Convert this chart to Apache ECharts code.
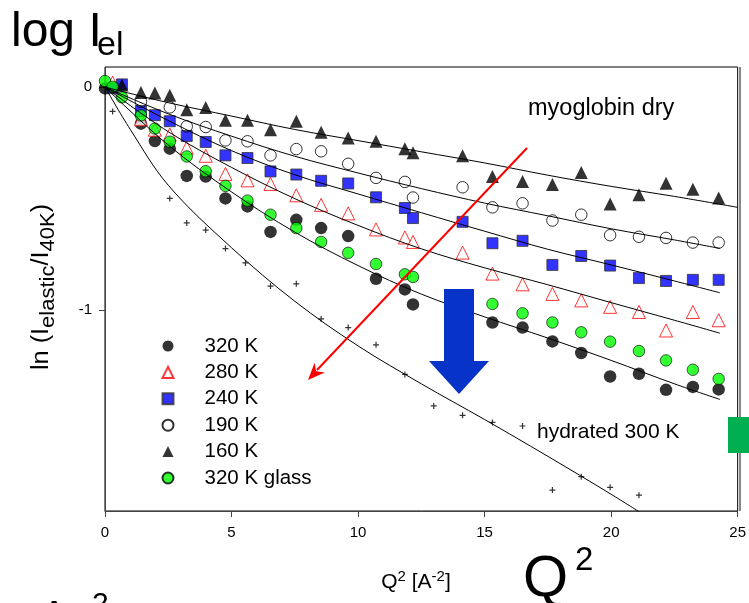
<!DOCTYPE html>
<html>
<head>
<meta charset="utf-8">
<script src="https://cdn.jsdelivr.net/npm/echarts@6/dist/echarts.min.js"></script>
<style>
html, body { margin: 0; padding: 0; background: #fff; }
#chart { width: 749px; height: 603px; }
</style>
</head>
<body>
<div id="chart"></div>
<script>
// Q^2 grid (A^-2) shared by the myoglobin runs
const q2 = [0, 0.30, 0.67, 1.42, 1.97, 2.56, 3.23, 3.98, 4.76, 5.63, 6.54, 7.56, 8.54, 9.61,
  10.71, 11.85, 12.17, 14.13, 15.31, 16.50, 17.68, 18.82, 19.96, 21.10, 22.17, 23.23, 24.25];

// ln(I_elastic / I_40K) per temperature (null = no point at that Q^2)
const k320 = [-0.006, null, null, -0.164, -0.242, -0.276, -0.398, -0.401, -0.499, -0.535, -0.649, -0.595, -0.632, -0.668,
  -0.859, -0.907, -0.974, null, -1.055, -1.078, -1.140, -1.192, -1.297, -1.285, -1.357, -1.344, -1.355];
const k280 = [null, 0.02, null, -0.144, -0.191, -0.213, -0.272, -0.308, -0.389, -0.418, -0.434, -0.485, -0.528, -0.566,
  -0.638, -0.674, -0.694, -0.742, -0.836, -0.884, -0.927, -0.956, -0.985, -1.008, -1.091, -1.008, -1.045];
const k240 = [null, -0.005, 0.012, -0.107, -0.126, -0.153, -0.219, -0.246, -0.306, -0.318, -0.378, -0.392, -0.420, -0.432,
  -0.494, -0.542, -0.587, -0.604, -0.700, -0.689, -0.797, -0.757, -0.800, -0.856, -0.869, -0.864, -0.864];
const k190 = [null, null, null, -0.066, null, -0.091, -0.176, -0.179, -0.239, -0.243, -0.306, -0.278, -0.288, -0.344,
  -0.407, -0.425, -0.495, -0.449, -0.539, -0.521, -0.598, -0.572, -0.664, -0.671, -0.676, -0.697, -0.697];
const k160 = [null, null, 0.009, -0.024, -0.026, -0.037, -0.102, -0.091, -0.149, -0.149, -0.191, -0.153, -0.203, -0.228,
  -0.243, -0.276, -0.294, -0.308, -0.401, -0.423, -0.437, -0.383, -0.524, -0.483, -0.431, -0.458, -0.497];
const glass320 = [0.027, 0.001, -0.046, -0.127, -0.186, -0.245, -0.311, -0.377, -0.443, -0.509, -0.572, -0.632, -0.694, -0.743,
  -0.793, -0.839, -0.851, null, -0.972, -1.014, -1.055, -1.099, -1.141, -1.183, -1.225, -1.267, -1.308];

// hydrated myoglobin, 300 K
const q2Hyd = [0.30, 2.56, 3.23, 3.98, 4.76, 5.55, 6.54, 7.56, 8.54, 9.61, 10.71, 11.85, 12.99, 14.13, 15.31, 16.50, 17.68, 18.82, 19.96, 21.10];
const hyd300 = [-0.109, -0.499, -0.609, -0.641, -0.724, -0.788, -0.892, -0.882, -1.039, -1.078, -1.155, -1.288, -1.429, -1.471,
  -1.503, -1.519, -1.806, -1.746, -1.794, -1.829];

// fitted curves, sampled along Q^2
const fitQ2 = [0, 2.5, 5, 7.5, 10, 12.5, 15, 17.5, 20, 22.5, 24.3];
const fitQ2Full = [0, 2.5, 5, 7.5, 10, 12.5, 15, 17.5, 20, 22.5, 25];
const fit160 = [0, -0.07, -0.13, -0.19, -0.24, -0.29, -0.34, -0.395, -0.445, -0.49, -0.539];
const fit190 = [0, -0.12, -0.22, -0.31, -0.385, -0.455, -0.52, -0.577, -0.635, -0.685, -0.723];
const fit240 = [0, -0.15, -0.285, -0.393, -0.479, -0.563, -0.646, -0.727, -0.797, -0.869, -0.922];
const fit280 = [0, -0.2, -0.36, -0.5, -0.62, -0.725, -0.81, -0.886, -0.966, -1.045, -1.103];
const fit320 = [0, -0.26, -0.47, -0.65, -0.80, -0.928, -1.03, -1.125, -1.225, -1.33, -1.40];
const fitHydQ2 = [0, 1, 2.5, 5, 7.5, 10, 12.5, 15, 17.5, 20, 21.2];
const fitHyd = [0, -0.19, -0.44, -0.72, -0.96, -1.16, -1.33, -1.49, -1.655, -1.825, -1.91];

// axis ticks
const xTicks = [0, 5, 10, 15, 20, 25];
const yTicks = [0, -1];

const FONT = '"Liberation Sans", Arial, sans-serif';

function pairs(xs, ys) {
  const out = [];
  xs.forEach((x, i) => { if (ys[i] !== null) out.push([x, ys[i]]); });
  return out;
}

function scatter(name, ys, symbol, size, itemStyle, xs) {
  return {
    name, type: 'scatter', z: 2,
    symbol, symbolSize: size,
    itemStyle,
    data: pairs(xs || q2, ys)
  };
}

function fit(xs, ys) {
  return {
    type: 'line', z: 3, smooth: 0.35, showSymbol: false, silent: true,
    lineStyle: { color: '#000', width: 1 },
    data: pairs(xs, ys)
  };
}

const plusPath = 'path://M4,0h2v4h4v2h-4v4h-2v-4h-4v-2h4z';

const option = {
  animation: false,
  backgroundColor: '#fff',
  textStyle: { fontFamily: FONT },
  grid: {
    left: 105, top: 67, width: 635, height: 444,
    show: true, borderColor: '#000', borderWidth: 1
  },
  xAxis: {
    type: 'value', min: 0, max: 25, interval: 5,
    axisLine: { show: true, onZero: false, lineStyle: { color: '#444', width: 1 } },
    axisTick: { show: true, length: 6, customValues: xTicks, lineStyle: { color: '#444' } },
    axisLabel: { customValues: xTicks, fontSize: 15, color: '#000', margin: 14, fontFamily: FONT },
    splitLine: { show: false }
  },
  yAxis: {
    type: 'value', min: -1.9, max: 0.09,
    axisLine: { show: true, onZero: false, lineStyle: { color: '#444', width: 1 } },
    axisTick: { show: true, length: 6, customValues: yTicks, lineStyle: { color: '#444' } },
    axisLabel: { customValues: yTicks, fontSize: 15, color: '#000', margin: 13, fontFamily: FONT },
    splitLine: { show: false }
  },
  legend: {
    orient: 'vertical', left: 161.5, top: 335, padding: 0,
    itemWidth: 11, itemHeight: 11, itemGap: 4.4,
    data: ['320 K', '280 K', '240 K', '190 K', '160 K', '320 K glass'],
    textStyle: { fontSize: 20.5, lineHeight: 22, color: '#000', fontFamily: FONT, padding: [0, 0, 0, 26] }
  },
  series: [
    scatter('320 K', k320, 'circle', 12.5, { color: '#000' }),
    scatter('280 K', k280, 'triangle', 13, { color: '#fff', borderColor: '#ff0000', borderWidth: 1 }),
    scatter('240 K', k240, 'rect', 11, { color: '#0000ff', borderColor: '#333', borderWidth: 1 }),
    scatter('190 K', k190, 'circle', 11.5, { color: 'rgba(255,255,255,0)', borderColor: '#000', borderWidth: 1 }),
    scatter('160 K', k160, 'triangle', 13, { color: '#000' }),
    scatter('320 K glass', glass320, 'circle', 11.5, { color: '#00ff00', borderColor: '#000', borderWidth: 0.8 }),
    scatter('hydrated 300 K', hyd300, plusPath, 6, { color: '#000' }, q2Hyd),
    fit(fitQ2Full, fit160),
    fit(fitQ2, fit190),
    fit(fitQ2, fit240),
    fit(fitQ2, fit280),
    fit(fitQ2, fit320),
    fit(fitHydQ2, fitHyd)
  ],
  graphic: [
    // right frame edge
    { type: 'line', z: 10, shape: { x1: 740, y1: 67, x2: 740, y2: 511 }, style: { stroke: '#888', lineWidth: 2 } },
    // temperature arrow
    { type: 'line', z: 10, shape: { x1: 527, y1: 148, x2: 317, y2: 370 }, style: { stroke: '#ff0000', lineWidth: 2 } },
    { type: 'polygon', z: 10, shape: { points: [[308, 380], [314.6, 362.8], [316.2, 371.3], [324.8, 372.4]] }, style: { fill: '#ff0000' } },
    // hydration arrow
    { type: 'polygon', z: 10, shape: { points: [[444, 289], [474, 289], [474, 361], [489, 361], [459, 394], [429, 361], [444, 361]] }, style: { fill: '#0833c8' } },
    { type: 'rect', z: 10, shape: { x: 728, y: 417, width: 21, height: 36 }, style: { fill: '#00b050' } },
    // annotations
    { type: 'text', z: 10, x: 528, y: 109, style: { text: 'myoglobin dry', font: '23.5px ' + FONT, fill: '#000', verticalAlign: 'middle' } },
    { type: 'text', z: 10, x: 537, y: 432, style: { text: 'hydrated 300 K', font: '21px ' + FONT, fill: '#000', verticalAlign: 'middle' } },
    // headline
    { type: 'text', z: 10, x: 11, y: 33, style: { text: 'log I', font: '48px ' + FONT, fill: '#000', verticalAlign: 'middle' } },
    { type: 'text', z: 10, x: 97, y: 46, style: { text: 'el', font: '34px ' + FONT, fill: '#000', verticalAlign: 'middle' } },
    // big Q^2
    { type: 'text', z: 10, x: 523, y: 580, style: { text: 'Q', font: '58px ' + FONT, fill: '#000', verticalAlign: 'middle' } },
    { type: 'text', z: 10, x: 575, y: 561, style: { text: '2', font: '33px ' + FONT, fill: '#000', verticalAlign: 'middle' } },
    // partly visible symbols at the bottom edge
    { type: 'text', z: 10, x: 40, y: 618, style: { text: '\u0394', font: '42px ' + FONT, fill: '#000', verticalAlign: 'middle' } },
    { type: 'text', z: 10, x: 92, y: 605, style: { text: '2', font: '30px ' + FONT, fill: '#000', verticalAlign: 'middle' } },
    // axis titles
    {
      type: 'text', z: 10, x: 416, y: 582,
      style: {
        text: '{m|Q}{s|2}{m| [A}{s|-2}{m|]}',
        align: 'center', verticalAlign: 'middle', fill: '#000',
        rich: {
          m: { fontSize: 21, fontFamily: FONT, fill: '#000' },
          s: { fontSize: 15, fontFamily: FONT, fill: '#000', padding: [0, 0, 11, 0] }
        }
      }
    },
    {
      type: 'text', z: 10, x: 42, y: 287, rotation: Math.PI / 2, scaleX: 1.1,
      style: {
        text: '{m|ln (I}{b|elastic}{m|/I}{b|40K}{m|)}',
        align: 'center', verticalAlign: 'middle', fill: '#000',
        rich: {
          m: { fontSize: 23, fontFamily: FONT, fill: '#000' },
          b: { fontSize: 20, fontFamily: FONT, fill: '#000', padding: [12, 0, 0, 0] }
        }
      }
    }
  ]
};

const chart = echarts.init(document.getElementById('chart'), null, { renderer: 'canvas' });
chart.setOption(option);
</script>
</body>
</html>
